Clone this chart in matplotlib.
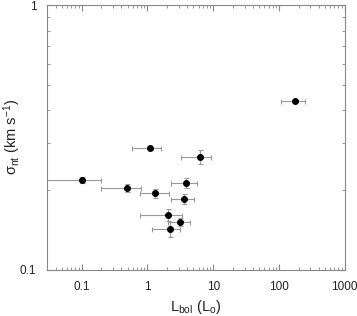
import numpy as np
import matplotlib
matplotlib.use('Agg')
import matplotlib.pyplot as plt
from matplotlib.ticker import LogLocator, NullFormatter, FixedLocator, FixedFormatter

plt.rcParams['font.family'] = ['Liberation Sans', 'DejaVu Sans']
plt.rcParams['mathtext.default'] = 'regular'

# bolometric luminosity (Lsun) and non-thermal velocity dispersion (km/s)
lbol = [1.08, 6.2, 0.10, 0.49, 3.9, 1.29, 3.6, 2.05, 3.1, 2.2, 175]
lbol_lo = [0.59, 3.23, 0.01, 0.198, 2.25, 0.78, 2.25, 0.78, 2.03, 1.17, 106]
lbol_hi = [1.61, 9.2, 0.198, 0.80, 5.7, 2.1, 5.15, 3.34, 4.38, 3.16, 248]
sigma = [0.287, 0.266, 0.218, 0.204, 0.212, 0.194, 0.185, 0.161, 0.151, 0.142, 0.434]
sigma_err = [0.004, 0.016, 0.006, 0.007, 0.009, 0.008, 0.008, 0.008, 0.005, 0.009, 0.004]

lbol = np.array(lbol)
xerr = [lbol - np.array(lbol_lo), np.array(lbol_hi) - lbol]

fig = plt.figure(figsize=(3.57, 3.16), dpi=100)
ax = fig.add_axes([0.1325, 0.147, 0.833, 0.837])

ax.errorbar(lbol, sigma, xerr=xerr, yerr=sigma_err, fmt='o', color='black',
            ms=4, ecolor='#999999', elinewidth=0.8, capsize=1.8, capthick=0.8)

ax.set_xscale('log')
ax.set_yscale('log')
ax.set_xlim(0.03, 1000)
ax.set_ylim(0.1, 1)

ax.xaxis.set_major_locator(FixedLocator([0.1, 1, 10, 100, 1000]))
ax.xaxis.set_major_formatter(FixedFormatter(['0.1', '1', '10', '100', '1000']))
ax.xaxis.set_minor_locator(LogLocator(base=10, subs=np.arange(2, 10)))
ax.xaxis.set_minor_formatter(NullFormatter())
ax.yaxis.set_major_locator(FixedLocator([0.1, 1]))
ax.yaxis.set_major_formatter(FixedFormatter(['0.1', '1']))
ax.yaxis.set_minor_locator(LogLocator(base=10, subs=np.arange(2, 10)))
ax.yaxis.set_minor_formatter(NullFormatter())

for s in ax.spines.values():
    s.set_color('#888888')
    s.set_linewidth(0.8)
ax.tick_params(which='both', direction='in', top=True, right=True,
               color='#888888', labelsize=8.5, labelcolor='#222222')
ax.tick_params(which='major', length=4, pad=8)
ax.tick_params(which='minor', length=2)

ax.set_xlabel(r'L$_{bol}$ (L$_o$)', fontsize=10.5, color='#222222')
ax.set_ylabel(r'$\sigma_{nt}$ (km s$^{-1}$)', fontsize=10.5, color='#222222')
ax.yaxis.set_label_coords(-0.082, 0.5)

fig.savefig('out.png', dpi=100)
